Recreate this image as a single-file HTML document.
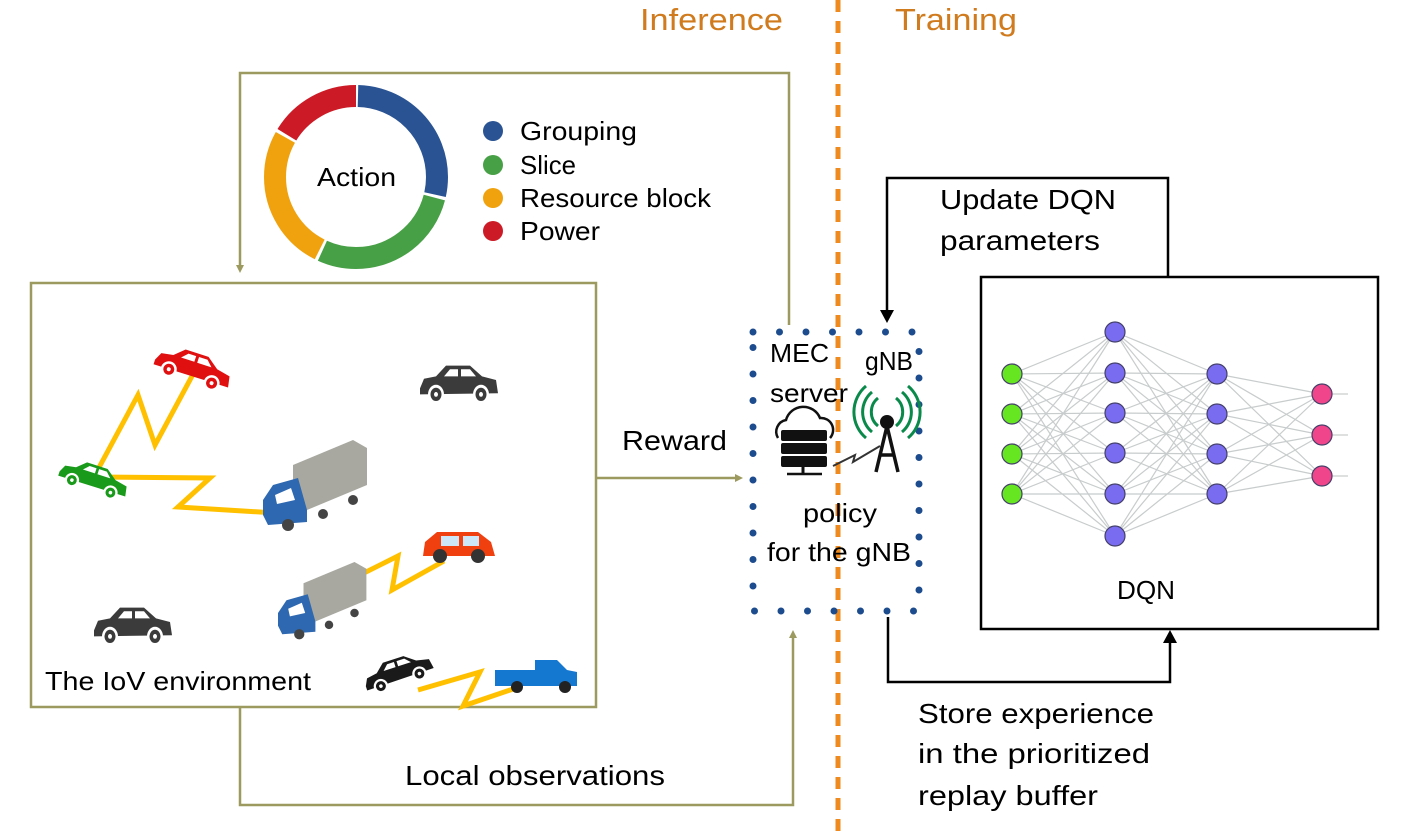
<!DOCTYPE html>
<html><head><meta charset="utf-8"><style>
html,body{margin:0;padding:0;background:#fff;}
svg{display:block;}
text{font-family:"Liberation Sans",sans-serif;}
</style></head><body>
<svg id="s" width="1417" height="833" viewBox="0 0 1417 833" xmlns="http://www.w3.org/2000/svg">
<defs>
<marker id="ao" markerWidth="10" markerHeight="10" refX="5" refY="5" orient="auto" markerUnits="userSpaceOnUse"><path d="M0,0 L10,5 L0,10 z" fill="#9c9a5e" transform="translate(-2,0)"/></marker>
<g id="sedan"><path d="M2,22 L6,14 L18,12 L28,3 L52,3 L64,12 L78,15 L80,26 L2,27 z"/><circle cx="18" cy="27" r="8" fill="#fff"/><circle cx="18" cy="27" r="5.5"/><circle cx="18" cy="27" r="2" fill="#fff"/><circle cx="63" cy="27" r="8" fill="#fff"/><circle cx="63" cy="27" r="5.5"/><circle cx="63" cy="27" r="2" fill="#fff"/><path d="M32,6 L40,6 L40,12 L26,12 z M43,6 L52,6 L58,12 L43,12 z" fill="#fff"/></g>
</defs>

<line x1="838" y1="0" x2="838" y2="833" stroke="#ee8a1e" stroke-width="5" stroke-dasharray="12,9"/>
<text x="640" y="30" font-size="31" fill="#d07b1e" textLength="143" lengthAdjust="spacingAndGlyphs">Inference</text>
<text x="895" y="30" font-size="31" fill="#d07b1e" textLength="122" lengthAdjust="spacingAndGlyphs">Training</text>

<g transform="translate(356,177) rotate(-90)">
<circle r="81" fill="none" stroke="#2a5393" stroke-width="22" stroke-dasharray="143 372" stroke-dashoffset="-2"/>
<circle r="81" fill="none" stroke="#48a046" stroke-width="22" stroke-dasharray="141 374" stroke-dashoffset="-148"/>
<circle r="81" fill="none" stroke="#f0a20e" stroke-width="22" stroke-dasharray="131 384" stroke-dashoffset="-292"/>
<circle r="81" fill="none" stroke="#cc1b26" stroke-width="22" stroke-dasharray="87 428" stroke-dashoffset="-426"/>
</g>
<text x="317" y="186" font-size="26" textLength="79" lengthAdjust="spacingAndGlyphs">Action</text>
<circle cx="493" cy="131" r="10" fill="#2a5393"/><text x="520" y="140" font-size="26" textLength="117" lengthAdjust="spacingAndGlyphs">Grouping</text>
<circle cx="493" cy="165" r="10" fill="#48a046"/><text x="520" y="174" font-size="26" textLength="56" lengthAdjust="spacingAndGlyphs">Slice</text>
<circle cx="493" cy="198" r="10" fill="#f0a20e"/><text x="520" y="207" font-size="26" textLength="191" lengthAdjust="spacingAndGlyphs">Resource block</text>
<circle cx="493" cy="231" r="10" fill="#cc1b26"/><text x="520" y="240" font-size="26" textLength="80" lengthAdjust="spacingAndGlyphs">Power</text>

<g stroke="#9c9a5e" stroke-width="2.5" fill="none">
<polyline points="789,325 789,73 240,73 240,270" marker-end="url(#ao)"/>
<line x1="597" y1="478" x2="740" y2="478" marker-end="url(#ao)"/>
<polyline points="240,707 240,805 793,805 793,633" marker-end="url(#ao)"/>
<rect x="31" y="283" width="565" height="424"/>
</g>
<text x="622" y="450" font-size="28" textLength="105" lengthAdjust="spacingAndGlyphs">Reward</text>
<text x="405" y="785" font-size="28" textLength="260" lengthAdjust="spacingAndGlyphs">Local observations</text>
<text x="45" y="690" font-size="26" textLength="266" lengthAdjust="spacingAndGlyphs">The IoV environment</text>

<g stroke="#ffc000" stroke-width="5" fill="none" stroke-linejoin="miter">
<polyline points="95,475 138,395 155,445 198,365"/>
<polyline points="95,477 210,478 178,507 292,514"/>
<polyline points="340,585 398,556 392,590 444,561"/>
<polyline points="418,690 480,672 463,706 516,688"/>
</g>
<g transform="translate(418,362) scale(1,1.2)"><use href="#sedan" fill="#3b3b3b"/></g>
<g transform="translate(92,604) scale(1,1.2)"><use href="#sedan" fill="#3b3b3b"/></g>
<g transform="translate(160,338) rotate(18)"><use href="#sedan" fill="#e01010"/></g>
<g transform="translate(64,452) rotate(18) scale(0.9)"><use href="#sedan" fill="#1a9a1a"/></g>
<g transform="translate(358,668) rotate(-18) scale(0.9)"><use href="#sedan" fill="#1a1a1a"/></g>
<g transform="translate(423,528)"><path d="M2,14 L14,4 L55,4 L68,14 L72,28 L0,28 z" fill="#f04010"/><rect x="18" y="8" width="18" height="10" fill="#cce8f8"/><rect x="40" y="8" width="16" height="10" fill="#cce8f8"/><circle cx="17" cy="28" r="7" fill="#333"/><circle cx="55" cy="28" r="7" fill="#333"/></g>
<g transform="translate(495,660)"><path d="M0,10 L40,10 L40,0 L62,0 L72,10 L82,12 L82,26 L0,26 z" fill="#1578d0"/><circle cx="22" cy="27" r="6" fill="#222"/><circle cx="70" cy="27" r="6" fill="#222"/></g>
<g transform="translate(263,440)"><path d="M30,25 L90,0 L104,8 L104,45 L44,70 L30,62 z" fill="#a8a8a0"/><path d="M0,60 L10,45 L35,38 L44,70 L44,82 L5,85 L0,75 z" fill="#2d68b0"/><path d="M12,55 L28,48 L32,60 L14,64z" fill="#fff"/><circle cx="25" cy="85" r="6" fill="#444"/><circle cx="60" cy="74" r="5" fill="#444"/><circle cx="90" cy="60" r="5" fill="#444"/></g>
<g transform="translate(278,562) scale(0.85)"><path d="M30,25 L90,0 L104,8 L104,45 L44,70 L30,62 z" fill="#a8a8a0"/><path d="M0,60 L10,45 L35,38 L44,70 L44,82 L5,85 L0,75 z" fill="#2d68b0"/><path d="M12,55 L28,48 L32,60 L14,64z" fill="#fff"/><circle cx="25" cy="85" r="6" fill="#444"/><circle cx="60" cy="74" r="5" fill="#444"/><circle cx="90" cy="60" r="5" fill="#444"/></g>

<rect x="753" y="332" width="166" height="279" fill="none" stroke="#1c4b8e" stroke-width="7" stroke-linecap="round" stroke-dasharray="0 26.5"/>
<text x="770" y="362" font-size="26" textLength="59" lengthAdjust="spacingAndGlyphs">MEC</text>
<text x="770" y="402" font-size="26" textLength="78" lengthAdjust="spacingAndGlyphs">server</text>
<text x="865" y="370" font-size="26" textLength="48" lengthAdjust="spacingAndGlyphs">gNB</text>
<text x="803" y="522" font-size="26" textLength="74" lengthAdjust="spacingAndGlyphs">policy</text>
<text x="767" y="561" font-size="26" textLength="144" lengthAdjust="spacingAndGlyphs">for the gNB</text>
<path d="M778,438 a12,12 0 0 1 8,-18 a18,18 0 0 1 34,-2 a12,12 0 0 1 10,20" fill="none" stroke="#111" stroke-width="2.5"/>
<rect x="781" y="430" width="46" height="11" rx="2" fill="#111"/><rect x="781" y="443" width="46" height="11" rx="2" fill="#111"/><rect x="781" y="456" width="46" height="11" rx="2" fill="#111"/>
<line x1="803" y1="467" x2="803" y2="473" stroke="#111" stroke-width="3"/><line x1="787" y1="474" x2="822" y2="474" stroke="#111" stroke-width="2.5"/>
<polyline points="833,466 855,455 853,462 880,446" fill="none" stroke="#333" stroke-width="2"/>
<g fill="none" stroke="#0a8a4a" stroke-width="3">
<path d="M878,398 a18,18 0 0 0 0,28 M896,398 a18,18 0 0 1 0,28"/>
<path d="M872,392 a26,26 0 0 0 0,40 M902,392 a26,26 0 0 1 0,40"/>
<path d="M866,386 a34,34 0 0 0 0,52 M908,386 a34,34 0 0 1 0,52"/>
</g>
<circle cx="887" cy="422" r="7" fill="#111"/>
<path d="M887,426 L876,472 M887,426 L898,472 M880,455 L894,455" stroke="#111" stroke-width="3.5" fill="none"/>

<g stroke="#000" stroke-width="2.5" fill="none">
<polyline points="1168,276 1168,178 887,178 887,312"/>
<polyline points="888,617 888,682 1170,682 1170,640"/>
<rect x="981" y="277" width="397" height="352" stroke-width="2.5"/>
</g>
<path d="M880,310 L894,310 L887,323 z" fill="#000"/>
<path d="M1163,643 L1177,643 L1170,630 z" fill="#000"/>
<text x="940" y="209" font-size="28" textLength="176" lengthAdjust="spacingAndGlyphs">Update DQN</text>
<text x="940" y="250" font-size="28" textLength="160" lengthAdjust="spacingAndGlyphs">parameters</text>
<text x="1117" y="599" font-size="26" textLength="58" lengthAdjust="spacingAndGlyphs">DQN</text>
<text x="918" y="723" font-size="28" textLength="236" lengthAdjust="spacingAndGlyphs">Store experience</text>
<text x="918" y="763" font-size="28" textLength="232" lengthAdjust="spacingAndGlyphs">in the prioritized</text>
<text x="918" y="805" font-size="28" textLength="180" lengthAdjust="spacingAndGlyphs">replay buffer</text>

<g id="nn" stroke="#c8cccc" stroke-width="1.2">
<line x1="1012" y1="374" x2="1115" y2="332"/><line x1="1012" y1="374" x2="1115" y2="373"/><line x1="1012" y1="374" x2="1115" y2="413"/><line x1="1012" y1="374" x2="1115" y2="453"/><line x1="1012" y1="374" x2="1115" y2="494"/><line x1="1012" y1="374" x2="1115" y2="536"/>
<line x1="1012" y1="414" x2="1115" y2="332"/><line x1="1012" y1="414" x2="1115" y2="373"/><line x1="1012" y1="414" x2="1115" y2="413"/><line x1="1012" y1="414" x2="1115" y2="453"/><line x1="1012" y1="414" x2="1115" y2="494"/><line x1="1012" y1="414" x2="1115" y2="536"/>
<line x1="1012" y1="454" x2="1115" y2="332"/><line x1="1012" y1="454" x2="1115" y2="373"/><line x1="1012" y1="454" x2="1115" y2="413"/><line x1="1012" y1="454" x2="1115" y2="453"/><line x1="1012" y1="454" x2="1115" y2="494"/><line x1="1012" y1="454" x2="1115" y2="536"/>
<line x1="1012" y1="494" x2="1115" y2="332"/><line x1="1012" y1="494" x2="1115" y2="373"/><line x1="1012" y1="494" x2="1115" y2="413"/><line x1="1012" y1="494" x2="1115" y2="453"/><line x1="1012" y1="494" x2="1115" y2="494"/><line x1="1012" y1="494" x2="1115" y2="536"/>
<line x1="1115" y1="332" x2="1217" y2="374"/><line x1="1115" y1="332" x2="1217" y2="414"/><line x1="1115" y1="332" x2="1217" y2="454"/><line x1="1115" y1="332" x2="1217" y2="494"/>
<line x1="1115" y1="373" x2="1217" y2="374"/><line x1="1115" y1="373" x2="1217" y2="414"/><line x1="1115" y1="373" x2="1217" y2="454"/><line x1="1115" y1="373" x2="1217" y2="494"/>
<line x1="1115" y1="413" x2="1217" y2="374"/><line x1="1115" y1="413" x2="1217" y2="414"/><line x1="1115" y1="413" x2="1217" y2="454"/><line x1="1115" y1="413" x2="1217" y2="494"/>
<line x1="1115" y1="453" x2="1217" y2="374"/><line x1="1115" y1="453" x2="1217" y2="414"/><line x1="1115" y1="453" x2="1217" y2="454"/><line x1="1115" y1="453" x2="1217" y2="494"/>
<line x1="1115" y1="494" x2="1217" y2="374"/><line x1="1115" y1="494" x2="1217" y2="414"/><line x1="1115" y1="494" x2="1217" y2="454"/><line x1="1115" y1="494" x2="1217" y2="494"/>
<line x1="1115" y1="536" x2="1217" y2="374"/><line x1="1115" y1="536" x2="1217" y2="414"/><line x1="1115" y1="536" x2="1217" y2="454"/><line x1="1115" y1="536" x2="1217" y2="494"/>
<line x1="1217" y1="374" x2="1322" y2="394"/><line x1="1217" y1="374" x2="1322" y2="435"/><line x1="1217" y1="374" x2="1322" y2="476"/>
<line x1="1217" y1="414" x2="1322" y2="394"/><line x1="1217" y1="414" x2="1322" y2="435"/><line x1="1217" y1="414" x2="1322" y2="476"/>
<line x1="1217" y1="454" x2="1322" y2="394"/><line x1="1217" y1="454" x2="1322" y2="435"/><line x1="1217" y1="454" x2="1322" y2="476"/>
<line x1="1217" y1="494" x2="1322" y2="394"/><line x1="1217" y1="494" x2="1322" y2="435"/><line x1="1217" y1="494" x2="1322" y2="476"/>
<line x1="1332" y1="394" x2="1348" y2="394"/><line x1="1332" y1="435" x2="1348" y2="435"/><line x1="1332" y1="476" x2="1348" y2="476"/>
</g>
<g stroke="#44406a" stroke-width="1.2">
<g fill="#66e620"><circle cx="1012" cy="374" r="10"/><circle cx="1012" cy="414" r="10"/><circle cx="1012" cy="454" r="10"/><circle cx="1012" cy="494" r="10"/></g>
<g fill="#7a6cf0"><circle cx="1115" cy="332" r="10"/><circle cx="1115" cy="373" r="10"/><circle cx="1115" cy="413" r="10"/><circle cx="1115" cy="453" r="10"/><circle cx="1115" cy="494" r="10"/><circle cx="1115" cy="536" r="10"/>
<circle cx="1217" cy="374" r="10"/><circle cx="1217" cy="414" r="10"/><circle cx="1217" cy="454" r="10"/><circle cx="1217" cy="494" r="10"/></g>
<g fill="#f0458a"><circle cx="1322" cy="394" r="10"/><circle cx="1322" cy="435" r="10"/><circle cx="1322" cy="476" r="10"/></g>
</g>
</svg>
</body></html>
